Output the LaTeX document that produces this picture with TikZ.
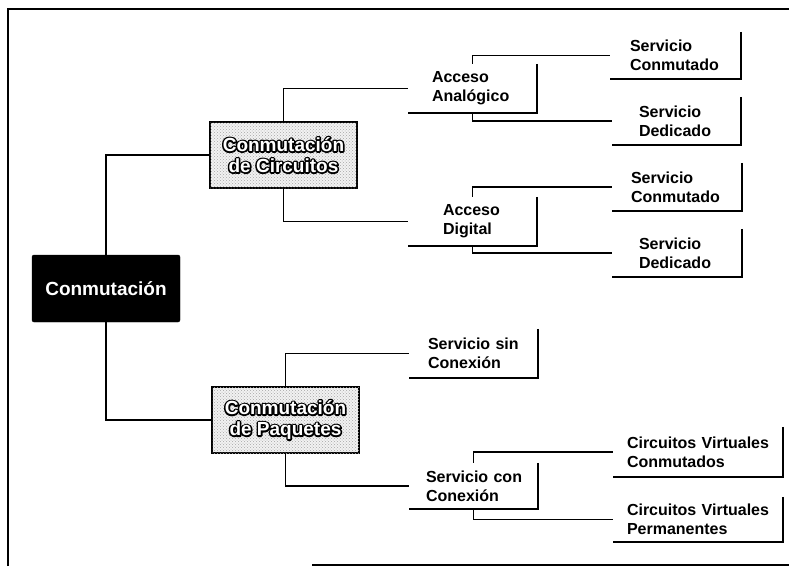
\documentclass[tikz,border=0pt]{standalone}
\usepackage{fontspec}
\setmainfont{Liberation Sans}
\usetikzlibrary{patterns}

\tikzset{
  link/.style={line width=1.2pt, black},
  edge/.style={line width=1.5pt, black},
  leaftext/.style={font=\fontsize{16}{19}\selectfont\bfseries, align=left, inner xsep=0pt, inner ysep=0pt},
  rootbox/.style={fill=black, draw=black, rounded corners=2pt, text=white,
    font=\fontsize{19}{22}\selectfont\bfseries, minimum width=148pt, minimum height=67pt, inner sep=0pt},
  grainbox/.style={draw=black, line width=1.3pt, fill=gray!10,
    postaction={pattern=crosshatch dots, pattern color=black!35},
    text=white, align=center, font=\fontsize{19}{22}\selectfont\bfseries,
    minimum width=147pt, minimum height=66pt, inner sep=0pt},
}

% white letters over a thick black stroke of the same letters
\newcommand{\outlined}[1]{\rlap{\special{pdf:literal direct 0 0 0 RG 3.2 w 1 j 1 Tr}#1\special{pdf:literal direct 0 Tr}}#1}

\begin{document}
\begin{tikzpicture}[x=1pt, y=-1pt]
  \useasboundingbox (0,0) rectangle (789,566);

  % outer frame
  \draw[line width=1.4pt] (8,566) -- (8,9) -- (789,9);
  \draw[line width=1.4pt] (312,565) -- (789,565);

  % main boxes
  \node[rootbox] (root) at (106,288.5) {Conmutación};
  \node[grainbox] (cc) at (283.5,155) {\outlined{Conmutación}\\[-1pt]\outlined{de Circuitos}};
  \node[grainbox] (cp) at (285.5,420) {\outlined{Conmutación}\\[-1pt]\outlined{de Paquetes}};

  % open boxes: minimum size plus left padding through text width
  \node[leaftext, minimum width=129pt, minimum height=49pt, text width=81pt] (aa) at (472.5,88.5) {Acceso\\Analógico};
  \node[leaftext, minimum width=131pt, minimum height=47pt, text width=91pt] (sc1) at (675.5,55.5) {Servicio\\Conmutado};
  \node[leaftext, minimum width=129pt, minimum height=48pt, text width=75pt] (sd1) at (676.5,121) {Servicio\\Dedicado};

  \node[leaftext, minimum width=129pt, minimum height=49pt, text width=59pt] (ad) at (472.5,221.5) {Acceso\\Digital};
  \node[leaftext, minimum width=130pt, minimum height=48pt, text width=92pt] (sc2) at (677,187) {Servicio\\Conmutado};
  \node[leaftext, minimum width=130pt, minimum height=48pt, text width=76pt] (sd2) at (677,253) {Servicio\\Dedicado};

  \node[leaftext, minimum width=129pt, minimum height=49pt, text width=91pt] (ssc) at (473.5,353.5) {Servicio~sin\\Conexión};
  \node[leaftext, minimum width=129pt, minimum height=46pt, text width=95pt] (scc) at (473.5,486) {Servicio~con\\Conexión};
  \node[leaftext, minimum width=170pt, minimum height=50pt, text width=142pt] (cvc) at (698,452) {Circuitos~Virtuales\\Conmutados};
  \node[leaftext, minimum width=170pt, minimum height=45pt, text width=142pt] (cvp) at (698,519.5) {Circuitos~Virtuales\\Permanentes};

  % right and bottom edges of the open boxes
  \foreach \n in {aa,sc1,sd1,ad,sc2,sd2,ssc,scc,cvc,cvp}
    \draw[edge] (\n.north east) -- (\n.south east) -- (\n.south west);

  % tree connectors
  \draw[link] (root.north) |- (cc.west);
  \draw[link] (root.south) |- (cp.west);
  \draw[link] (cc.north) |- (aa.west);
  \draw[link] (cc.south) |- (ad.west);
  \draw[link] (cp.north) |- (ssc.west);
  \draw[link] (cp.south) |- (scc.west);
  \draw[link] (aa.north) |- (sc1.west);
  \draw[link] (aa.south) |- (sd1.west);
  \draw[link] (ad.north) |- (sc2.west);
  \draw[link] (ad.south) |- (sd2.west);
  \draw[link] (scc.north) |- (cvc.west);
  \draw[link] (scc.south) |- (cvp.west);
\end{tikzpicture}
\end{document}
